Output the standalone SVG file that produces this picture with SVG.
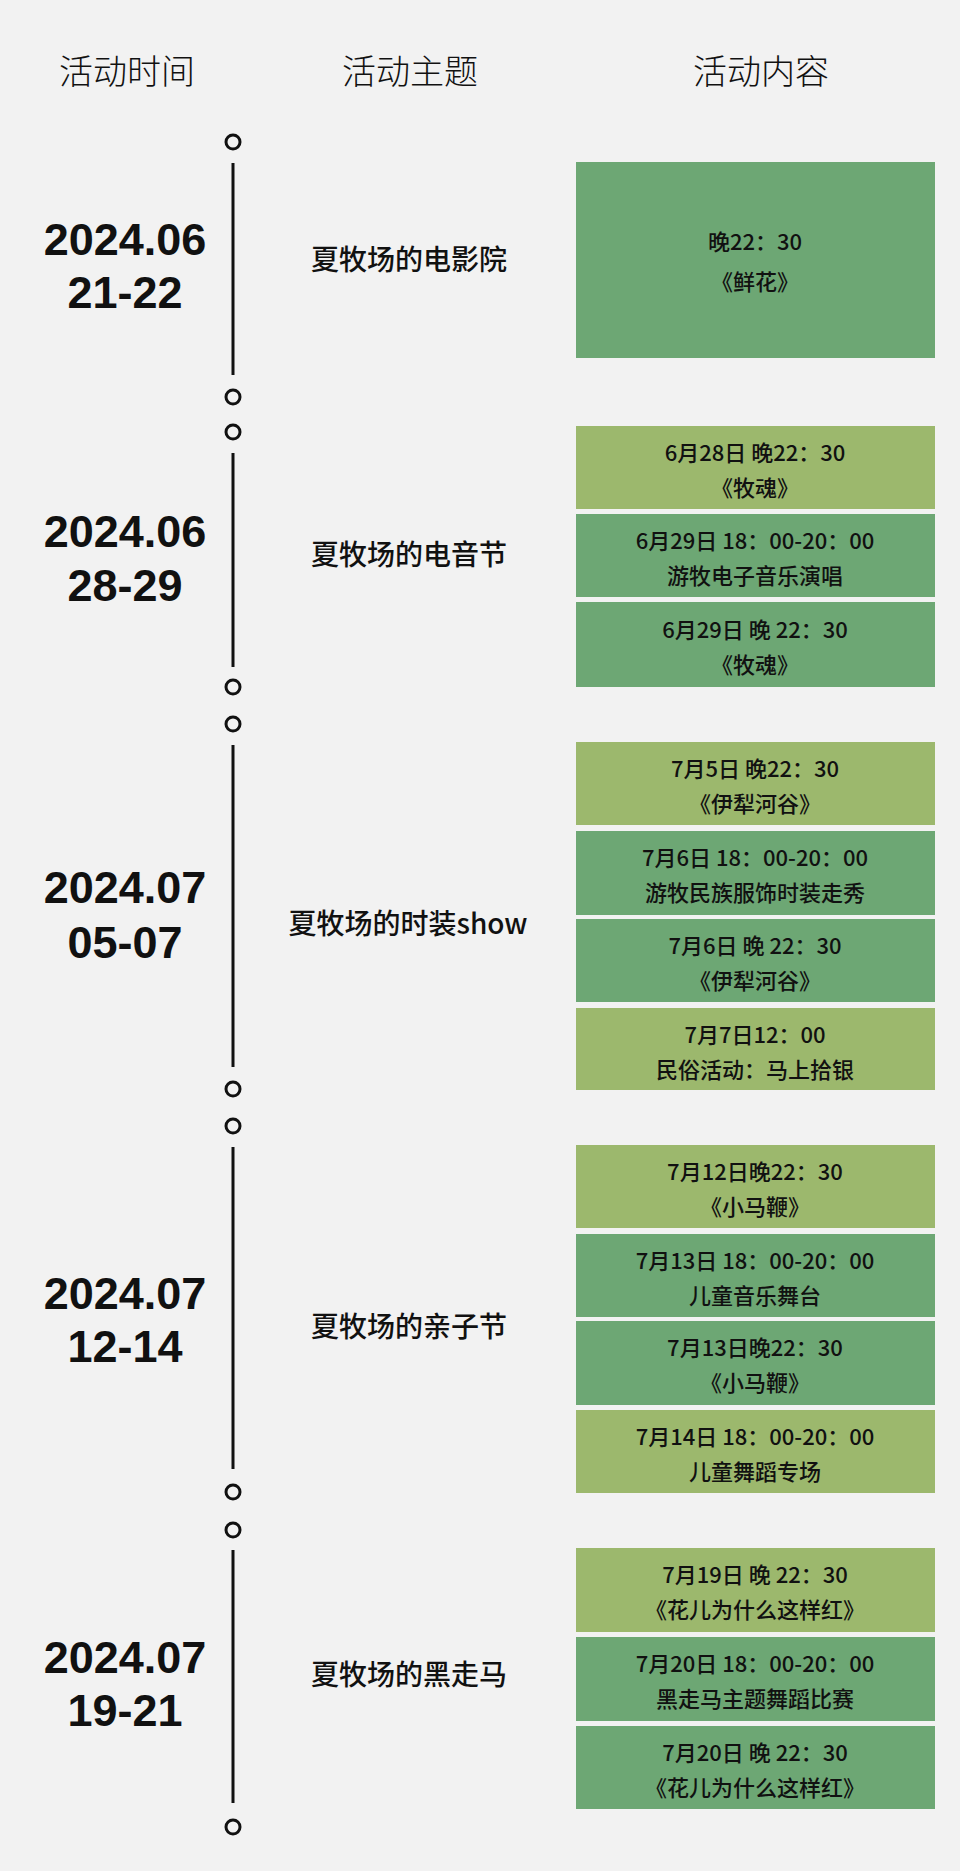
<svg xmlns="http://www.w3.org/2000/svg" width="960" height="1871" viewBox="0 0 960 1871">
<style>
.h{font-family:"Noto Sans CJK SC",sans-serif;font-size:34px;font-weight:300;fill:#111;text-anchor:middle}
.d{font-family:"Liberation Sans","Noto Sans CJK SC",sans-serif;font-size:45px;font-weight:bold;fill:#111;text-anchor:middle}
.t{font-family:"Noto Sans CJK SC",sans-serif;font-size:28px;font-weight:500;fill:#111;text-anchor:middle}
.b{font-family:"Noto Sans CJK SC",sans-serif;font-size:22px;font-weight:500;fill:#111;text-anchor:middle}
.L{fill:#9cb86d}.D{fill:#6da774}
.c{fill:none;stroke:#111;stroke-width:3}
.l{stroke:#111;stroke-width:3}
</style>
<rect width="960" height="1871" fill="#f2f2f2"/>
<g id="headers">
<text class="h" x="127" y="84">活动时间</text>
<text class="h" x="410" y="84">活动主题</text>
<text class="h" x="761" y="84">活动内容</text>
</g>
<g id="connectors">
<circle class="c" cx="233" cy="142" r="7"/><line class="l" x1="233" y1="163" x2="233" y2="375"/><circle class="c" cx="233" cy="397" r="7"/>
<circle class="c" cx="233" cy="432" r="7"/><line class="l" x1="233" y1="453" x2="233" y2="667"/><circle class="c" cx="233" cy="687" r="7"/>
<circle class="c" cx="233" cy="724" r="7"/><line class="l" x1="233" y1="745" x2="233" y2="1067"/><circle class="c" cx="233" cy="1089" r="7"/>
<circle class="c" cx="233" cy="1126" r="7"/><line class="l" x1="233" y1="1147" x2="233" y2="1469"/><circle class="c" cx="233" cy="1492" r="7"/>
<circle class="c" cx="233" cy="1530" r="7"/><line class="l" x1="233" y1="1550" x2="233" y2="1803"/><circle class="c" cx="233" cy="1827" r="7"/>
</g>
<g id="s1">
<text class="d" x="125" y="255">2024.06</text><text class="d" x="125" y="308">21-22</text>
<text class="t" x="409" y="270">夏牧场的电影院</text>
<rect class="D" x="576" y="162" width="359" height="196"/>
<text class="b" x="755" y="250">晚22：30</text><text class="b" x="755" y="290">《鲜花》</text>
</g>
<g id="s2">
<text class="d" x="125" y="547">2024.06</text><text class="d" x="125" y="601">28-29</text>
<text class="t" x="409" y="565">夏牧场的电音节</text>
<rect class="L" x="576" y="426" width="359" height="83"/>
<text class="b" x="755" y="461">6月28日 晚22：30</text><text class="b" x="755" y="496">《牧魂》</text>
<rect class="D" x="576" y="514" width="359" height="83"/>
<text class="b" x="755" y="549">6月29日 18：00-20：00</text><text class="b" x="755" y="584">游牧电子音乐演唱</text>
<rect class="D" x="576" y="602" width="359" height="85"/>
<text class="b" x="755" y="638">6月29日 晚 22：30</text><text class="b" x="755" y="673">《牧魂》</text>
</g>
<g id="s3">
<text class="d" x="125" y="903">2024.07</text><text class="d" x="125" y="958">05-07</text>
<text class="t" x="408" y="934">夏牧场的时装show</text>
<rect class="L" x="576" y="742" width="359" height="83"/>
<text class="b" x="755" y="777">7月5日 晚22：30</text><text class="b" x="755" y="812">《伊犁河谷》</text>
<rect class="D" x="576" y="831" width="359" height="84"/>
<text class="b" x="755" y="866">7月6日 18：00-20：00</text><text class="b" x="755" y="901">游牧民族服饰时装走秀</text>
<rect class="D" x="576" y="919" width="359" height="83"/>
<text class="b" x="755" y="954">7月6日 晚 22：30</text><text class="b" x="755" y="989">《伊犁河谷》</text>
<rect class="L" x="576" y="1008" width="359" height="82"/>
<text class="b" x="755" y="1043">7月7日12：00</text><text class="b" x="755" y="1078">民俗活动：马上拾银</text>
</g>
<g id="s4">
<text class="d" x="125" y="1309">2024.07</text><text class="d" x="125" y="1362">12-14</text>
<text class="t" x="409" y="1337">夏牧场的亲子节</text>
<rect class="L" x="576" y="1145" width="359" height="83"/>
<text class="b" x="755" y="1180">7月12日晚22：30</text><text class="b" x="755" y="1215">《小马鞭》</text>
<rect class="D" x="576" y="1234" width="359" height="83"/>
<text class="b" x="755" y="1269">7月13日 18：00-20：00</text><text class="b" x="755" y="1304">儿童音乐舞台</text>
<rect class="D" x="576" y="1321" width="359" height="84"/>
<text class="b" x="755" y="1356">7月13日晚22：30</text><text class="b" x="755" y="1391">《小马鞭》</text>
<rect class="L" x="576" y="1410" width="359" height="83"/>
<text class="b" x="755" y="1445">7月14日 18：00-20：00</text><text class="b" x="755" y="1480">儿童舞蹈专场</text>
</g>
<g id="s5">
<text class="d" x="125" y="1673">2024.07</text><text class="d" x="125" y="1726">19-21</text>
<text class="t" x="409" y="1685">夏牧场的黑走马</text>
<rect class="L" x="576" y="1548" width="359" height="84"/>
<text class="b" x="755" y="1583">7月19日 晚 22：30</text><text class="b" x="755" y="1618">《花儿为什么这样红》</text>
<rect class="D" x="576" y="1637" width="359" height="84"/>
<text class="b" x="755" y="1672">7月20日  18：00-20：00</text><text class="b" x="755" y="1707">黑走马主题舞蹈比赛</text>
<rect class="D" x="576" y="1726" width="359" height="83"/>
<text class="b" x="755" y="1761">7月20日 晚 22：30</text><text class="b" x="755" y="1796">《花儿为什么这样红》</text>
</g>
</svg>
